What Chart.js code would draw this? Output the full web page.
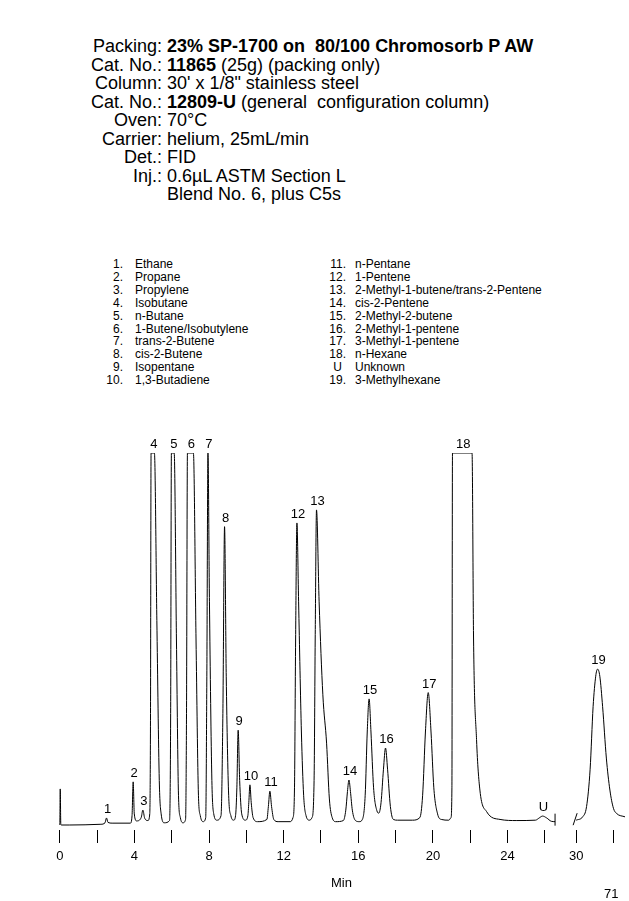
<!DOCTYPE html>
<html>
<head>
<meta charset="utf-8">
<script src="https://cdn.jsdelivr.net/npm/chart.js@4.4.0/dist/chart.umd.min.js"></script>
<style>
  body { margin: 0; background: #fff; color: #000; font-family: Arial, "Liberation Sans", sans-serif; }
  #page { position: relative; width: 629px; height: 901px; overflow: hidden; }
  .hdr { position: absolute; left: 0; top: 37px; font-size: 18px; line-height: 18.5px; }
  .row { display: flex; white-space: pre; }
  .lab { width: 162px; text-align: right; }
  .val { padding-left: 5px; }
  .legend { position: absolute; top: 258px; font-size: 12px; line-height: 12.9px; }
  .legend .num { display: inline-block; text-align: right; }
  .legend .name { white-space: pre; }
  #chartBox { position: absolute; left: 0; top: 400px; width: 629px; height: 501px; }
  .pageNo { position: absolute; left: 604px; top: 886px; font-size: 13px; }
</style>
</head>
<body>
<div id="page">
  <div class="hdr">
    <div class="row"><span class="lab">Packing:</span><span class="val"><b>23% SP-1700 on  80/100 Chromosorb P AW</b></span></div>
    <div class="row"><span class="lab">Cat. No.:</span><span class="val"><b>11865</b> (25g) (packing only)</span></div>
    <div class="row"><span class="lab">Column:</span><span class="val">30' x 1/8" stainless steel</span></div>
    <div class="row"><span class="lab">Cat. No.:</span><span class="val"><b>12809-U</b> (general  configuration column)</span></div>
    <div class="row"><span class="lab">Oven:</span><span class="val">70°C</span></div>
    <div class="row"><span class="lab">Carrier:</span><span class="val">helium, 25mL/min</span></div>
    <div class="row"><span class="lab">Det.:</span><span class="val">FID</span></div>
    <div class="row"><span class="lab">Inj.:</span><span class="val">0.6µL ASTM Section L</span></div>
    <div class="row"><span class="lab"></span><span class="val">Blend No. 6, plus C5s</span></div>
  </div>
  <div class="legend" id="legLeft" style="left:100px"></div>
  <div class="legend" id="legRight" style="left:320px"></div>
  <div id="chartBox"><canvas id="chart" width="629" height="501"></canvas></div>
  <div class="pageNo">71</div>
</div>
<script>
// Peak identification list
const leftIds = ['1.', '2.', '3.', '4.', '5.', '6.', '7.', '8.', '9.', '10.'];
const leftNames = ['Ethane', 'Propane', 'Propylene', 'Isobutane', 'n-Butane', '1-Butene/Isobutylene',
  'trans-2-Butene', 'cis-2-Butene', 'Isopentane', '1,3-Butadiene'];
const rightIds = ['11.', '12.', '13.', '14.', '15.', '16.', '17.', '18.', 'U', '19.'];
const rightNames = ['n-Pentane', '1-Pentene', '2-Methyl-1-butene/trans-2-Pentene', 'cis-2-Pentene',
  '2-Methyl-2-butene', '2-Methyl-1-pentene', '3-Methyl-1-pentene', 'n-Hexane', 'Unknown', '3-Methylhexane'];

// Detector trace (minutes, relative signal; 100 = off scale)
const traceMinutes = [0, 0.02, 0.05, 0.08, 0.5, 2.2, 2.42, 2.5, 2.58, 2.8, 3.78, 3.87, 3.93, 3.99, 4.12,
  4.36, 4.45, 4.55, 4.72, 4.82, 4.86, 4.89, 5.07, 5.2, 5.33, 5.43, 5.6, 5.88, 5.94, 5.98, 6.13, 6.25,
  6.36, 6.46, 6.6, 6.74, 6.79, 6.84, 7.16, 7.3, 7.43, 7.53, 7.68, 7.82, 7.88, 7.94, 8.02, 8.15, 8.25,
  8.42, 8.64, 8.74, 8.83, 8.92, 9.05, 9.17, 9.32, 9.42, 9.49, 9.56, 9.64, 9.75, 9.95, 10.08, 10.13,
  10.19, 10.26, 10.36, 10.6, 11.1, 11.18, 11.26, 11.35, 11.47, 11.7, 12.35, 12.5, 12.58, 12.64, 12.71,
  12.8, 12.95, 13.07, 13.2, 13.38, 13.52, 13.63, 13.69, 13.76, 13.9, 14.1, 14.3, 14.45, 14.6, 14.8,
  15.2, 15.33, 15.42, 15.5, 15.58, 15.68, 15.85, 16.05, 16.22, 16.37, 16.48, 16.58, 16.68, 16.82, 17.0,
  17.1, 17.22, 17.35, 17.46, 17.57, 17.72, 17.88, 18.1, 18.9, 19.3, 19.45, 19.6, 19.75, 19.9, 20.05,
  20.25, 20.45, 20.85, 20.97, 21.02, 21.05, 22.1, 22.18, 22.34, 22.52, 22.88, 23.6, 24.5, 25.5, 25.7,
  25.88, 26.1, 26.35, 26.55, 28, 30.0, 30.35, 30.56, 30.75, 30.91, 31.05, 31.15, 31.27, 31.42, 31.62,
  31.81, 32.0, 32.17, 32.62];
const traceSignal = [0, 9.7, 0.3, 0, 0, 0.2, 0.6, 1.9, 0.7, 0.5, 0.5, 2.5, 11.6, 3, 1.1,
  2.0, 4.0, 1.8, 1.2, 3, 30, 100, 100, 55, 12, 3, 0.6, 1.2, 30, 100, 100, 50,
  8, 2, 0.6, 1.5, 30, 100, 100, 50, 8, 2.5, 0.9, 2, 40, 100, 60, 12, 3,
  1.3, 2.5, 30, 80.2, 40, 8, 2.5, 1.3, 2.5, 10, 25.5, 12, 3, 1.3, 2.5, 6,
  10.8, 6, 2, 0.9, 1.5, 5, 9.1, 5, 1.5, 0.9, 0.9, 2, 10, 50, 81.2,
  60, 25, 8, 2.5, 1.3, 2, 12, 50, 84.7, 60, 35, 22, 7, 2, 0.9,
  1.2, 4, 9, 12.1, 9, 4, 1.2, 0.9, 1.5, 8, 25, 33.9, 25, 10, 3.8,
  3.2, 6, 15, 20.7, 15, 5, 1.5, 1.3, 1.3, 2, 8, 25, 35.6, 25, 10,
  3, 1.5, 1.3, 2, 10, 100, 100, 50, 23, 9.4, 3.6, 1.5, 1.2, 1.3, 1.9,
  2.4, 1.9, 1.0, 0.9, null, 1.3, 2.2, 5, 15, 31.8, 40, 41.9, 40, 31.8, 18,
  9.4, 4.5, 3.1, 2.2];

// Peak labels at the apex of each peak
const peakIds = ['1', '2', '3', '4', '5', '6', '7', '8', '9', '10', '11', '12', '13', '14', '15', '16', '17', '18', 'U', '19'];
const peakMinutes = [2.5, 3.93, 4.45, 4.98, 6.06, 7.0, 7.94, 8.83, 9.56, 10.19, 11.26, 12.71, 13.76, 15.5, 16.58, 17.46, 19.75, 21.57, 25.88, 31.15];
const peakHeights = [1.9, 11.6, 4.0, 100, 100, 100, 100, 80.2, 25.5, 10.8, 9.1, 81.2, 84.7, 12.1, 33.9, 20.7, 35.6, 100, 2.4, 41.9];

// Time axis, broken between 26 and 30 min
const tickMinutes = [0, 2, 4, 6, 8, 10, 12, 14, 16, 18, 20, 22, 24, 26, 30, 32];
const tickLabels = ['0', '', '4', '', '8', '', '12', '', '16', '', '20', '', '24', '', '30', ''];
const BREAK_START = 28;
const BREAK_SHIFT = 2.32;

const FONT = 'Arial, "Liberation Sans", sans-serif';

function toAxis(m) {
  return m > BREAK_START ? m - BREAK_SHIFT : m;
}

function buildLegend(el, ids, names, numWidth, gap) {
  el.innerHTML = ids.map((id, i) =>
    '<div><span class="num" style="width:' + numWidth + 'px' +
    (id === 'U' ? ';padding-right:4px;box-sizing:border-box' : '') + '">' + id +
    '</span><span class="name" style="padding-left:' + gap + 'px">' + names[i] + '</span></div>').join('');
}
buildLegend(document.getElementById('legLeft'), leftIds, leftNames, 23, 12);
buildLegend(document.getElementById('legRight'), rightIds, rightNames, 26, 9);

// Numbers above the peaks
const peakLabelPlugin = {
  id: 'peakLabels',
  afterDatasetsDraw(chart) {
    const {ctx, scales: {x, y}} = chart;
    ctx.save();
    ctx.font = '13px ' + FONT;
    ctx.fillStyle = '#000';
    ctx.textAlign = 'center';
    peakIds.forEach((id, i) => {
      ctx.fillText(id, x.getPixelForValue(toAxis(peakMinutes[i])) + 1, y.getPixelForValue(peakHeights[i]) - 5);
    });
    ctx.restore();
  }
};

// Small marks where the trace is cut for the axis break
const breakMarkPlugin = {
  id: 'breakMarks',
  afterDatasetsDraw(chart) {
    const {ctx, scales: {x, y}} = chart;
    const gap = traceSignal.indexOf(null);
    const before = [traceMinutes[gap - 1], traceSignal[gap - 1]];
    const after = [traceMinutes[gap + 1], traceSignal[gap + 1]];
    ctx.save();
    ctx.strokeStyle = '#000';
    ctx.lineWidth = 1;
    ctx.beginPath();
    let px = x.getPixelForValue(toAxis(before[0])), py = y.getPixelForValue(before[1]);
    ctx.moveTo(px, py - 8);
    ctx.lineTo(px, py + 4);
    px = x.getPixelForValue(toAxis(after[0])); py = y.getPixelForValue(after[1]);
    ctx.moveTo(px - 3, py + 5);
    ctx.lineTo(px + 1, py - 7);
    ctx.stroke();
    ctx.restore();
  }
};

new Chart(document.getElementById('chart'), {
  type: 'line',
  data: {
    datasets: [{
      data: traceMinutes.map((m, i) => ({x: toAxis(m), y: traceSignal[i]})),
      borderColor: '#000',
      borderWidth: 1,
      pointRadius: 0,
      fill: false,
      spanGaps: false,
      cubicInterpolationMode: 'monotone'
    }]
  },
  options: {
    responsive: false,
    animation: false,
    layout: {padding: {top: 53, left: 58, right: 4, bottom: 0}},
    plugins: {legend: {display: false}, tooltip: {enabled: false}},
    scales: {
      x: {
        type: 'linear',
        min: -0.1,
        max: 30.3,
        afterBuildTicks: (scale) => { scale.ticks = tickMinutes.map(m => ({value: toAxis(m)})); },
        afterFit: (scale) => { scale.height = 71; },
        ticks: {
          autoSkip: false, maxRotation: 0, minRotation: 0, padding: 6,
          color: '#000', font: {size: 13, family: FONT},
          callback: (value, index) => tickLabels[index]
        },
        grid: {display: true, drawOnChartArea: false, drawTicks: true, tickLength: 13, color: '#000', lineWidth: 1},
        border: {display: false},
        title: {display: true, text: 'Min', color: '#000', font: {size: 13, family: FONT}, padding: {top: 0, bottom: 10}}
      },
      y: {
        display: false,
        min: -1.34,
        max: 100
      }
    }
  },
  plugins: [peakLabelPlugin, breakMarkPlugin]
});
</script>
</body>
</html>
